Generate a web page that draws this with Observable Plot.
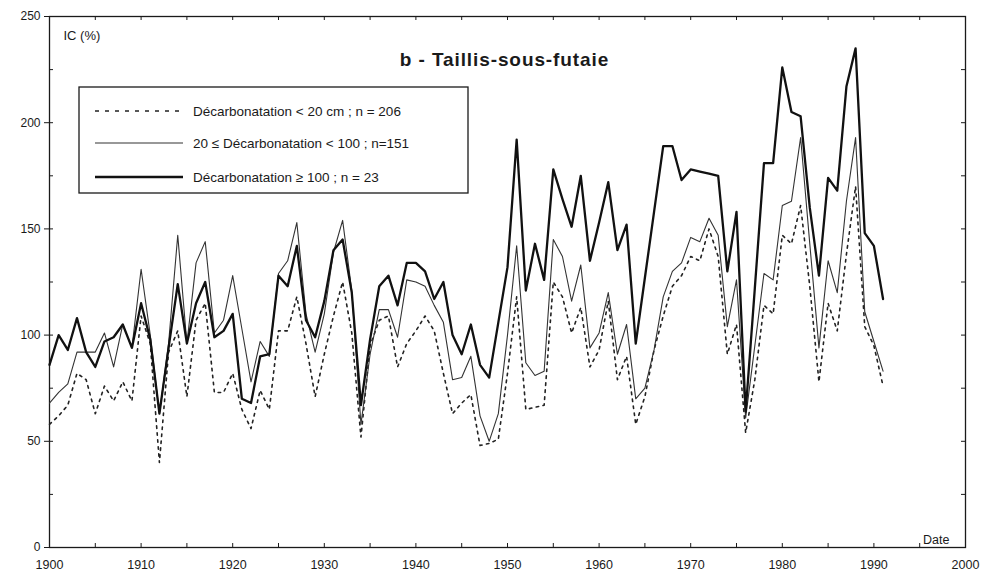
<!DOCTYPE html>
<html>
<head>
<meta charset="utf-8">
<script src="https://cdn.jsdelivr.net/npm/d3@7"></script>
<script src="https://cdn.jsdelivr.net/npm/@observablehq/plot@0.6"></script>
<style>
  body { margin: 0; background: #fff; }
  #chart svg { display: block; }
</style>
</head>
<body>
<div id="chart"></div>
<script>
// ---- Data (IC %, yearly 1900-1991) ----
const firstYear = 1900;
const decarbLt20 = [ // Décarbonatation < 20 cm ; n = 206 (dotted)
  58, 62, 67, 82, 79, 63, 76, 69, 78, 69,
  109, 96, 40, 92, 102, 71, 107, 115, 73, 73,
  82, 65, 56, 74, 65, 102, 102, 118, 96, 71,
  91, 109, 125, 101, 52, 95, 107, 109, 85, 96,
  102, 109, 102, 82, 63, 68, 72, 48, 49, 51,
  82, 118, 65, 66, 67, 125, 118, 101, 113, 85,
  93, 116, 79, 90, 58, 71, 93, 109, 123, 128,
  137, 135, 150, 137, 91, 105, 54, 79, 114, 110,
  147, 143, 161, 123, 78, 115, 102, 138, 170, 104,
  95, 76
];
const decarb20to100 = [ // 20 ≤ Décarbonatation < 100 ; n = 151 (thin)
  68, 73, 77, 92, 92, 92, 101, 85, 105, 94,
  131, 100, 63, 96, 147, 96, 134, 144, 101, 107,
  128, 103, 78, 97, 90, 129, 135, 153, 110, 92,
  110, 139, 154, 121, 58, 91, 112, 112, 99, 126,
  125, 123, 114, 106, 79, 80, 90, 62, 50, 63,
  100, 142, 87, 81, 83, 145, 137, 116, 133, 94,
  101, 120, 91, 105, 70, 75, 93, 118, 130, 134,
  146, 144, 155, 147, 104, 126, 61, 95, 129, 126,
  161, 163, 193, 143, 94, 135, 120, 163, 193, 111,
  97, 83
];
const decarbGe100 = [ // Décarbonatation ≥ 100 ; n = 23 (thick)
  86, 100, 93, 108, 92, 85, 97, 99, 105, 94,
  115, 98, 63, 94, 124, 96, 115, 125, 99, 102,
  110, 70, 68, 90, 91, 128, 123, 142, 107, 99,
  116, 140, 145, 120, 67, 98, 123, 128, 114, 134,
  134, 130, 117, 125, 100, 91, 105, 86, 80, 106,
  132, 192, 121, 143, 126, 178, 164, 151, 175, 135,
  153, 172, 140, 152, 96, 127, 158, 189, 189, 173,
  178, 177, 176, 175, 130, 158, 64, 122, 181, 181,
  226, 205, 203, 160, 128, 174, 168, 217, 235, 148,
  142, 117
];
const seriesLabels = [
  "Décarbonatation < 20 cm ; n = 206",
  "20 ≤ Décarbonatation < 100 ; n=151",
  "Décarbonatation ≥ 100 ; n = 23"
];
const xTickLabels = [1900, 1910, 1920, 1930, 1940, 1950, 1960, 1970, 1980, 1990, 2000];
const xMinorTicks = [1905, 1910, 1915, 1920, 1925, 1930, 1935, 1940, 1945, 1950, 1955, 1960, 1965, 1970, 1975, 1980, 1985, 1990, 1995];
const yTickLabels = [0, 50, 100, 150, 200, 250];
const yMinorTicks = [25, 50, 75, 100, 125, 150, 175, 200, 225];
const titleText = "b - Taillis-sous-futaie";
const yLabel = "IC (%)";
const xLabel = "Date";

// ---- Build tables ----
const toRows = (arr) => arr.map((v, i) => ({year: firstYear + i, value: v}));
const rowsLt20 = toRows(decarbLt20);
const rows20to100 = toRows(decarb20to100);
const rowsGe100 = toRows(decarbGe100);

const W = 984, H = 575;
const mL = 49, mR = 19, mT = 16, mB = 28;
const innerW = W - mL - mR, innerH = H - mT - mB;
const ink = "#1a1a1a";

const styles = {
  dotted: {stroke: "#222", strokeWidth: 1.6, strokeDasharray: "2.5,4.5"},
  thin:   {stroke: "#333", strokeWidth: 1.1},
  thick:  {stroke: "#111", strokeWidth: 2.3}
};

const chart = Plot.plot({
  width: W,
  height: H,
  marginLeft: mL, marginRight: mR, marginTop: mT, marginBottom: mB,
  style: {fontFamily: "'Liberation Sans', Arial, sans-serif", fontSize: "12px", color: ink, background: "#fff"},
  x: {domain: [1900, 2000], label: null},
  y: {domain: [0, 250], label: null},
  marks: [
    Plot.frame({stroke: ink, strokeWidth: 1.3}),
    // inward minor ticks on all four sides
    Plot.ruleX(xMinorTicks, {x: d => d, insetTop: innerH - 4, stroke: ink, strokeWidth: 1}),
    Plot.ruleX(xMinorTicks, {x: d => d, insetBottom: innerH - 4, stroke: ink, strokeWidth: 1}),
    Plot.ruleY(yMinorTicks, {y: d => d, insetRight: innerW - 4, stroke: ink, strokeWidth: 1}),
    Plot.ruleY(yMinorTicks, {y: d => d, insetLeft: innerW - 4, stroke: ink, strokeWidth: 1}),
    Plot.axisY({ticks: yTickLabels, tickSize: 5, tickPadding: 4, fontSize: 12, label: null, stroke: ink}),
    Plot.axisX({ticks: xTickLabels, tickSize: 0, tickPadding: 13, fontSize: 12.5, tickFormat: d => String(d), label: null}),
    Plot.line(rowsLt20, {x: "year", y: "value", ...styles.dotted}),
    Plot.line(rows20to100, {x: "year", y: "value", ...styles.thin}),
    Plot.line(rowsGe100, {x: "year", y: "value", ...styles.thick}),
    Plot.text([yLabel], {frameAnchor: "top-left", dx: 14, dy: 14, fontSize: 13, fill: ink}),
    Plot.text([titleText], {frameAnchor: "top", dx: -3, dy: 36, fontSize: 19, fontWeight: "bold", fill: ink,
      style: "letter-spacing:0.9px"}),
    Plot.text([xLabel], {frameAnchor: "bottom-right", dx: -16, dy: -4, fontSize: 12.5, fill: ink})
  ]
});

document.getElementById("chart").appendChild(chart);

// title letter spacing (applied to the text element directly)
d3.select(chart).selectAll("text").filter(function() { return this.textContent === titleText; })
  .style("letter-spacing", "0.9px");

// ---- Legend box (inside the plot, upper left) ----
const svg = d3.select(chart);
const lg = svg.append("g").attr("class", "legend").attr("text-anchor", "start");
lg.append("rect")
  .attr("x", 79).attr("y", 87).attr("width", 389).attr("height", 106)
  .attr("fill", "#fff").attr("stroke", ink).attr("stroke-width", 1.3);
const legendStyles = [styles.dotted, styles.thin, styles.thick];
const rowY = [111, 143, 177];
seriesLabels.forEach((label, i) => {
  const s = legendStyles[i];
  lg.append("line")
    .attr("x1", 95).attr("x2", 183).attr("y1", rowY[i]).attr("y2", rowY[i])
    .attr("stroke", s.stroke).attr("stroke-width", s.strokeWidth)
    .attr("stroke-dasharray", i === 0 ? "4,6" : null);
  lg.append("text")
    .attr("x", 193).attr("y", rowY[i]).attr("dy", "0.35em")
    .attr("text-anchor", "start")
    .attr("font-size", 13.5).attr("fill", ink)
    .text(label);
});
</script>
</body>
</html>
